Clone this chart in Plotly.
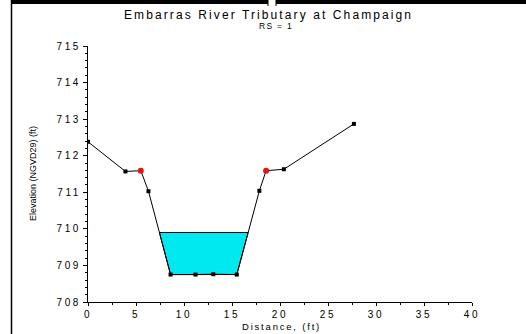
import numpy as np
import plotly.graph_objects as go

# Cross-section ground points (station ft, elevation ft)
station = [0.0, 3.9, 5.5, 6.3, 8.6, 11.2, 13.05, 15.5, 17.85, 18.55, 20.4, 27.7]
elevation = [712.38, 711.57, 711.59, 711.03, 708.75, 708.75, 708.76, 708.75,
             711.04, 711.59, 711.63, 712.87]
bank_idx = [2, 9]          # left / right bank stations
ws_elev = 709.9            # water surface elevation

x_ticks = [0, 5, 10, 15, 20, 25, 30, 35, 40]
y_ticks = [708, 709, 710, 711, 712, 713, 714, 715]

W, H = 526, 334
ML, MR, MT, MB = 88, 54, 46, 32
PW, PH = W - ML - MR, H - MT - MB
FONT = "Liberation Sans, Arial"


def spaced(t, ls):
    return f'<span style="letter-spacing:{ls}px">{t}</span>'


# water polygon: ground between bank stations clipped at the water surface
xs = np.array(station[bank_idx[0]:bank_idx[1] + 1])
zs = np.array(elevation[bank_idx[0]:bank_idx[1] + 1])
poly_x, poly_y = [], []
for i in range(len(xs) - 1):
    x0, x1, z0, z1 = xs[i], xs[i + 1], zs[i], zs[i + 1]
    if z0 <= ws_elev:
        poly_x.append(x0)
        poly_y.append(z0)
    if (z0 - ws_elev) * (z1 - ws_elev) < 0:
        xc = x0 + (ws_elev - z0) / (z1 - z0) * (x1 - x0)
        poly_x.append(xc)
        poly_y.append(ws_elev)
poly_x.append(poly_x[0])
poly_y.append(poly_y[0])

fig = go.Figure()
fig.add_trace(go.Scatter(x=poly_x, y=poly_y, mode="lines", fill="toself",
                         fillcolor="#00E8F0", line=dict(color="black", width=1),
                         hoverinfo="skip", showlegend=False))
fig.add_trace(go.Scatter(x=station, y=elevation, mode="lines+markers",
                         line=dict(color="black", width=1),
                         marker=dict(symbol="square", size=4, color="black"),
                         showlegend=False))
fig.add_trace(go.Scatter(x=[station[i] for i in bank_idx],
                         y=[elevation[i] for i in bank_idx], mode="markers",
                         marker=dict(symbol="circle", size=6, color="#EE1111"),
                         showlegend=False))

tick_font = dict(family=FONT, size=10, color="black")
fig.update_xaxes(range=[0, 40], tickvals=x_ticks,
                 ticktext=[spaced(str(v), 2.6) for v in x_ticks],
                 showgrid=False, zeroline=False, showline=True, automargin=False,
                 linecolor="black", linewidth=1, ticks="outside", ticklen=3,
                 tickcolor="black", tickfont=tick_font,
                 minor=dict(dtick=2.5, ticks="outside", ticklen=2, tickcolor="black"))
fig.update_yaxes(range=[708, 715], tickvals=y_ticks,
                 ticktext=[spaced(str(v), 2.6) for v in y_ticks],
                 showgrid=False, zeroline=False, showline=True, automargin=False,
                 linecolor="black", linewidth=1, ticks="outside", ticklen=4,
                 tickcolor="black", tickfont=tick_font,
                 minor=dict(dtick=0.2, ticks="outside", ticklen=2, tickcolor="black"))


def px_x(p):
    return (p - ML) / PW


def px_y(p):
    return (H - MB - p) / PH


shapes = [
    # frame: top bar, notch and left rule
    dict(type="rect", xref="paper", yref="paper", x0=px_x(11), x1=px_x(268),
         y0=px_y(4), y1=px_y(0), fillcolor="black", line_width=0),
    dict(type="rect", xref="paper", yref="paper", x0=px_x(276), x1=px_x(W),
         y0=px_y(4), y1=px_y(0), fillcolor="black", line_width=0),
    dict(type="line", xref="paper", yref="paper", x0=px_x(268), x1=px_x(268),
         y0=px_y(6), y1=px_y(0), line=dict(color="black", width=1)),
    dict(type="line", xref="paper", yref="paper", x0=px_x(276), x1=px_x(276),
         y0=px_y(6), y1=px_y(0), line=dict(color="black", width=1)),
    dict(type="line", xref="paper", yref="paper", x0=px_x(11.5), x1=px_x(11.5),
         y0=px_y(H), y1=px_y(0), line=dict(color="black", width=1.5)),
]

annotations = [
    dict(text=spaced("Embarras River Tributary at Champaign", 2.1), xref="paper", yref="paper",
         x=px_x(268), y=px_y(15), showarrow=False, xanchor="center", yanchor="middle",
         font=dict(family=FONT, size=12, color="black")),
    dict(text=spaced("RS = 1", 1.3), xref="paper", yref="paper",
         x=px_x(276), y=px_y(26), showarrow=False, xanchor="center", yanchor="middle",
         font=dict(family=FONT, size=8.5, color="black")),
    dict(text=spaced("Distance, (ft)", 1.8), xref="paper", yref="paper",
         x=px_x(281), y=px_y(326), showarrow=False, xanchor="center", yanchor="middle",
         font=dict(family=FONT, size=9.5, color="black")),
    dict(text="Elevation (NGVD29) (ft)", xref="paper", yref="paper", textangle=-90,
         x=px_x(33), y=px_y(174), showarrow=False, xanchor="center", yanchor="middle",
         font=dict(family="Liberation Sans Narrow, Liberation Sans", size=9, color="black")),
]

fig.update_layout(width=W, height=H, margin=dict(l=ML, r=MR, t=MT, b=MB, autoexpand=False),
                  paper_bgcolor="white", plot_bgcolor="white",
                  shapes=shapes, annotations=annotations, showlegend=False)

fig.write_html("out.html")
